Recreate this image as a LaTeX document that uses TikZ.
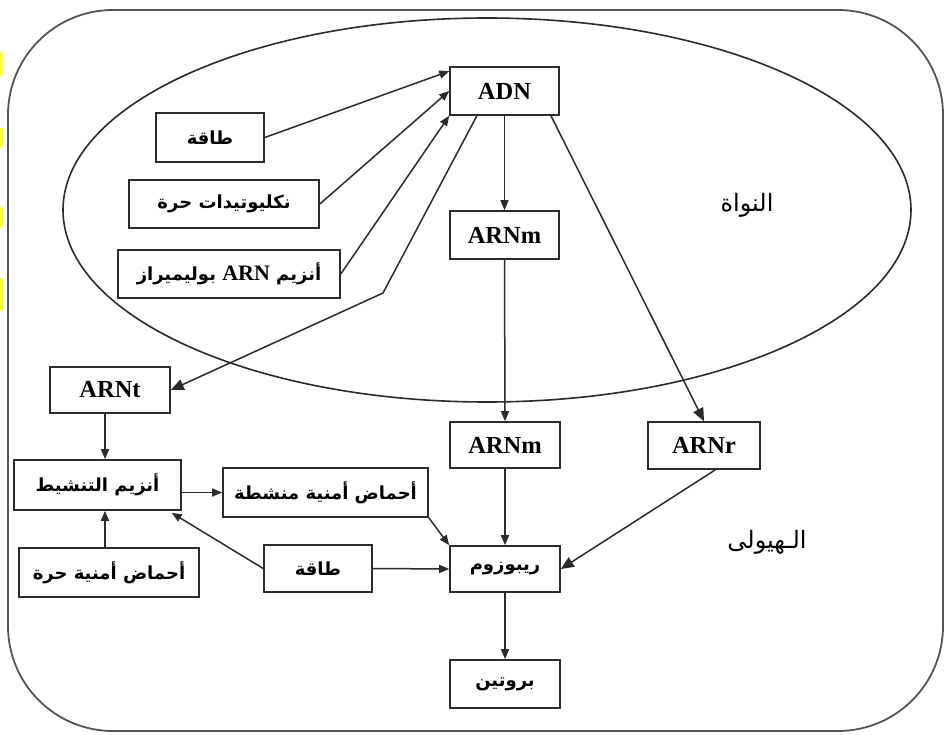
\documentclass[tikz,border=0pt]{standalone}
\usepackage{fontspec}
\setmainfont{Liberation Serif}
\newfontfamily\arabicfont[Script=Arabic]{DejaVu Sans}
\TeXXeTstate=1
\usetikzlibrary{arrows.meta,calc}

\definecolor{ink}{HTML}{2B2B2B}
\definecolor{marker}{HTML}{FFFF20}

\tikzset{
  box/.style={draw=ink, line width=1.6pt, fill=white, inner sep=0pt, anchor=center},
  latinlbl/.style={font=\fontsize{24.5}{26}\selectfont\bfseries},
  arlbl/.style={font=\arabicfont\bfseries\fontsize{18}{20}\selectfont},
  region/.style={font=\arabicfont\fontsize{24}{26}\selectfont},
  arr/.style={draw=ink, line width=1.5pt, -{Triangle[length=10pt,width=8pt]}},
  bigarr/.style={draw=ink, line width=1.5pt, -{Triangle[length=13pt,width=11pt]}},
}

\newcommand{\ar}[1]{\beginR #1\endR}

\begin{document}
\begin{tikzpicture}[x=1pt,y=-1pt]
  \useasboundingbox (0,0) rectangle (944,735);
  \fill[white] (0,0) rectangle (944,735);

  % highlight slivers on the left edge
  \fill[marker] (0,52) rectangle (3,75);
  \fill[marker] (0,128) rectangle (3,147);
  \fill[marker] (0,207) rectangle (3,227);
  \fill[marker] (0,278) rectangle (3,310);

  % cell outline and nucleus
  \draw[ink!80, line width=1.8pt, rounded corners=105pt] (8,10) rectangle (943,731);
  \draw[ink, line width=1.6pt] (487,210) ellipse [x radius=424, y radius=192];

  % region labels
  \node[region] (noyau) at (747,205) {\ar{النواة}};
  \node[region] (cyto) at (767,542) {\ar{الـهيولى}};

  % boxes
  \node[box, minimum width=109pt, minimum height=48pt, latinlbl] (adn) at (504.5,91) {ADN};
  \node[box, minimum width=109pt, minimum height=48pt, latinlbl] (arnm1) at (504.5,235) {ARNm};
  \node[box, minimum width=108pt, minimum height=49pt, arlbl] (taqa1) at (210,137.5) {\ar{طاقة}};
  \node[box, minimum width=190pt, minimum height=48pt, arlbl] (nucl) at (224,204) {\ar{نكليوتيدات حرة}};
  \node[box, minimum width=222pt, minimum height=48pt, arlbl] (poly) at (229,274)
    {\ar{أنزيم \beginL{\rmfamily\bfseries\fontsize{22}{24}\selectfont ARN}\endL{} بوليميراز}};
  \node[box, minimum width=120pt, minimum height=46pt, latinlbl] (arnt) at (110,390) {ARNt};
  \node[box, minimum width=167pt, minimum height=50pt, arlbl] (enz) at (97.5,485) {\ar{أنزيم التنشيط}};
  \node[box, minimum width=205pt, minimum height=49pt, arlbl] (aaact) at (325.5,492.5) {\ar{أحماض أمنية منشطة}};
  \node[box, minimum width=180pt, minimum height=49pt, arlbl] (aafree) at (109,572.5) {\ar{أحماض أمنية حرة}};
  \node[box, minimum width=108pt, minimum height=47pt, arlbl] (taqa2) at (318,568.5) {\ar{طاقة}};
  \node[box, minimum width=110pt, minimum height=46pt, latinlbl] (arnm2) at (505,445) {ARNm};
  \node[box, minimum width=112pt, minimum height=47pt, latinlbl] (arnr) at (704,445.5) {ARNr};
  \node[box, minimum width=110pt, minimum height=46pt, arlbl] (ribo) at (505,569) {\ar{ريبوزوم}};
  \node[box, minimum width=110pt, minimum height=48pt, arlbl] (prot) at (505,684) {\ar{بروتين}};

  % transcription inputs
  \draw[arr] (taqa1.east) -- ($(adn.north west)!0.1!(adn.south west)$);
  \draw[arr] (nucl.east) -- ($(adn.north west)!0.5!(adn.south west)$);
  \draw[arr] (poly.east) -- (adn.south west);

  % products of ADN
  \coordinate (bend) at (383,293);
  \draw[bigarr] ($(adn.south west)!0.25!(adn.south east)$) -- (bend) -- (arnt.east);
  \draw[arr] (adn.south) -- (arnm1.north);
  \draw[bigarr] ($(adn.south west)!0.92!(adn.south east)$) -- (arnr.north);
  \draw[arr] (arnm1.south) -- (arnm2.north);

  % amino acid activation
  \draw[arr] ([xshift=-5pt]arnt.south) -- ([xshift=7.5pt]enz.north);
  \draw[arr] ([xshift=-4pt]aafree.north) -- ([xshift=7.5pt]enz.south);
  \draw[arr] (aaact.west -| enz.east) -- (aaact.west);
  \draw[arr] (taqa2.west) -- ($(enz.south west)!0.94!(enz.south east)+(0,2)$);

  % translation
  \draw[arr] (taqa2.east) -- (ribo.west);
  \draw[arr] (aaact.south east) -- (ribo.north west);
  \draw[arr] (arnm2.south) -- (ribo.north);
  \draw[bigarr] ($(arnr.south west)!0.6!(arnr.south east)$) -- (ribo.east);
  \draw[arr] (ribo.south) -- (prot.north);
\end{tikzpicture}
\end{document}
